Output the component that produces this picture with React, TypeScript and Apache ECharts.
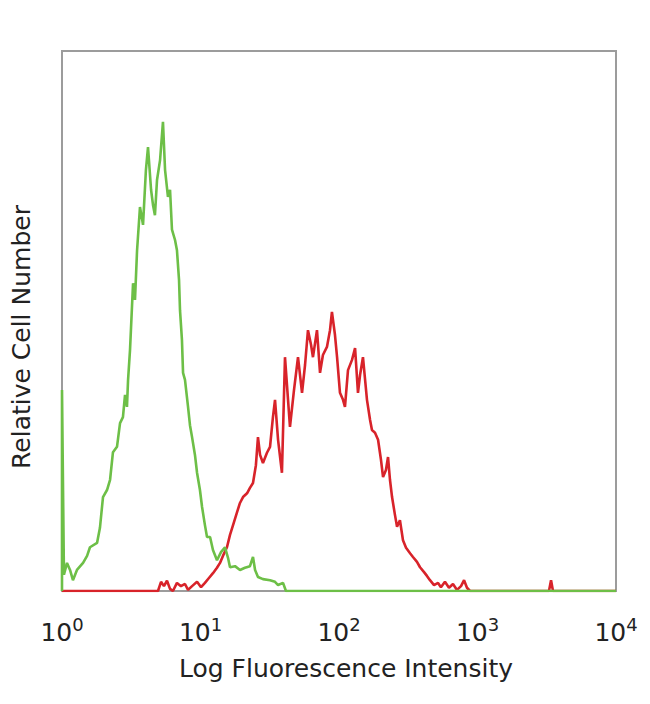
import React, { useEffect, useRef } from "react";
import * as echarts from "echarts";

// x: decades of fluorescence intensity (log10), y: relative cell count (0-100)
const decadeTicks = [0, 1, 2, 3, 4];
const tickExponents = ["0", "1", "2", "3", "4"];

const controlSeries: [number, number][] = [
  [0, 0], [0, 37.2], [0.014, 3.0], [0.036, 5.2], [0.058, 3.9], [0.079, 2.0], [0.108, 3.9],
  [0.152, 5.2], [0.181, 6.5], [0.202, 8.1], [0.253, 8.9], [0.274, 11.7], [0.296, 17.4],
  [0.325, 18.7], [0.347, 20.6], [0.368, 25.7], [0.397, 26.7], [0.419, 31.1], [0.44, 32.2],
  [0.455, 36.3], [0.469, 34.1], [0.477, 39.1], [0.491, 44.6], [0.513, 57.0], [0.527, 53.9],
  [0.542, 63.1], [0.563, 71.1], [0.585, 67.8], [0.606, 78.0], [0.621, 82.2], [0.643, 74.3],
  [0.657, 71.5], [0.671, 69.6], [0.686, 76.1], [0.708, 79.8], [0.729, 86.9], [0.744, 78.0],
  [0.765, 73.0], [0.78, 74.3], [0.794, 66.9], [0.816, 65.0], [0.83, 63.1], [0.845, 57.6],
  [0.852, 52.0], [0.866, 46.5], [0.874, 40.4], [0.888, 39.1], [0.91, 34.1], [0.924, 30.7],
  [0.939, 28.5], [0.96, 25.2], [0.975, 21.9], [0.996, 18.7], [1.011, 15.6], [1.032, 12.2],
  [1.047, 10.0], [1.069, 10.0], [1.09, 7.6], [1.119, 5.7], [1.148, 7.2], [1.177, 8.1],
  [1.199, 6.1], [1.213, 4.4], [1.249, 4.6], [1.285, 3.9], [1.321, 4.3], [1.357, 4.6],
  [1.379, 6.3], [1.394, 3.9], [1.415, 2.6], [1.451, 2.2], [1.502, 2.0], [1.538, 1.7],
  [1.56, 1.1], [1.596, 1.5], [1.617, 0], [4, 0],
];

const stainedSeries: [number, number][] = [
  [0, 0], [0.693, 0], [0.715, 1.7], [0.736, 0.9], [0.758, 1.9], [0.78, 0.4], [0.801, 0],
  [0.83, 1.5], [0.859, 0.9], [0.888, 1.3], [0.91, 0.2], [0.939, 0.9], [0.975, 1.7],
  [1.004, 0.7], [1.032, 1.5], [1.061, 2.4], [1.09, 3.3], [1.119, 4.3], [1.141, 5.2],
  [1.162, 6.5], [1.191, 8.1], [1.213, 10.4], [1.235, 12.2], [1.264, 14.6], [1.285, 16.3],
  [1.307, 17.4], [1.336, 18.1], [1.357, 19.1], [1.379, 20.0], [1.4, 23.3], [1.415, 28.5],
  [1.43, 25.2], [1.451, 23.7], [1.48, 25.6], [1.502, 26.7], [1.523, 32.2], [1.538, 35.4],
  [1.56, 28.0], [1.588, 21.9], [1.61, 43.3], [1.632, 35.4], [1.646, 30.4], [1.675, 37.2],
  [1.704, 43.3], [1.733, 36.7], [1.755, 41.9], [1.776, 48.3], [1.798, 45.6], [1.812, 43.3],
  [1.841, 48.3], [1.863, 40.4], [1.884, 43.7], [1.913, 45.2], [1.935, 48.3], [1.949, 51.7],
  [1.971, 47.4], [1.986, 43.3], [2.007, 36.7], [2.029, 35.4], [2.043, 34.1], [2.065, 40.9],
  [2.094, 42.8], [2.116, 45.0], [2.137, 36.7], [2.152, 40.0], [2.173, 43.3], [2.202, 35.4],
  [2.224, 31.7], [2.238, 29.8], [2.26, 29.3], [2.282, 28.0], [2.303, 24.3], [2.318, 21.1],
  [2.339, 22.4], [2.354, 24.8], [2.368, 20.6], [2.383, 17.4], [2.404, 14.1], [2.419, 11.9],
  [2.44, 13.1], [2.462, 9.4], [2.484, 8.0], [2.513, 7.0], [2.534, 6.3], [2.563, 5.4],
  [2.585, 4.4], [2.614, 3.5], [2.635, 2.8], [2.657, 2.0], [2.686, 1.1], [2.715, 1.5],
  [2.736, 0.7], [2.765, 1.7], [2.794, 0.6], [2.823, 1.3], [2.852, 0.2], [2.881, 0.9],
  [2.903, 2.0], [2.924, 0.6], [2.946, 0], [3.516, 0], [3.531, 2.0], [3.545, 0], [4, 0],
];

const xAxisTitle = "Log Fluorescence Intensity";
const yAxisTitle = "Relative Cell Number";

export default function App() {
  const ref = useRef<HTMLDivElement>(null);

  useEffect(() => {
    if (!ref.current) return;
    const chart = echarts.init(ref.current, null, { renderer: "svg" });
    const font = "DejaVu Sans";
    chart.setOption({
      animation: false,
      backgroundColor: "#ffffff",
      grid: {
        left: 62,
        top: 51,
        right: 34,
        bottom: 113,
        show: true,
        borderColor: "#9c9c9c",
        borderWidth: 2,
        backgroundColor: "transparent",
      },
      xAxis: {
        type: "value",
        min: 0,
        max: 4,
        interval: 1,
        axisLine: { show: false },
        axisTick: { show: false },
        splitLine: { show: false },
        axisLabel: {
          margin: 24,
          formatter: (v: number) => {
            const i = decadeTicks.indexOf(Math.round(v));
            return "{b|10}{s|" + tickExponents[i] + "}";
          },
          rich: {
            b: { fontFamily: font, fontSize: 25, color: "#222", lineHeight: 30, verticalAlign: "bottom" },
            s: { fontFamily: font, fontSize: 18, color: "#222", lineHeight: 30, verticalAlign: "top", padding: [0, 0, 10, 0] },
          },
        },
      },
      yAxis: {
        type: "value",
        min: 0,
        max: 100,
        axisLine: { show: false },
        axisTick: { show: false },
        splitLine: { show: false },
        axisLabel: { show: false },
      },
      graphic: [
        {
          type: "text",
          x: 346,
          y: 668,
          style: {
            text: xAxisTitle,
            fontFamily: font,
            fontSize: 25,
            fill: "#222",
            align: "center",
            verticalAlign: "middle",
          },
        },
        {
          type: "text",
          x: 21,
          y: 337,
          rotation: Math.PI / 2,
          style: {
            text: yAxisTitle,
            fontFamily: font,
            fontSize: 25,
            fill: "#222",
            align: "center",
            verticalAlign: "middle",
          },
        },
      ],
      series: [
        {
          type: "line",
          name: "Stained",
          data: stainedSeries,
          showSymbol: false,
          lineStyle: { color: "#d8232a", width: 2.6 },
          z: 2,
        },
        {
          type: "line",
          name: "Control",
          data: controlSeries,
          showSymbol: false,
          lineStyle: { color: "#6dbf47", width: 2.6 },
          z: 3,
        },
      ],
    });
    return () => chart.dispose();
  }, []);

  return (
    <div style={{ position: "fixed", left: 0, top: 0, width: 650, height: 704, background: "#fff" }}>
      <div ref={ref} style={{ width: 650, height: 704 }} />
    </div>
  );
}
